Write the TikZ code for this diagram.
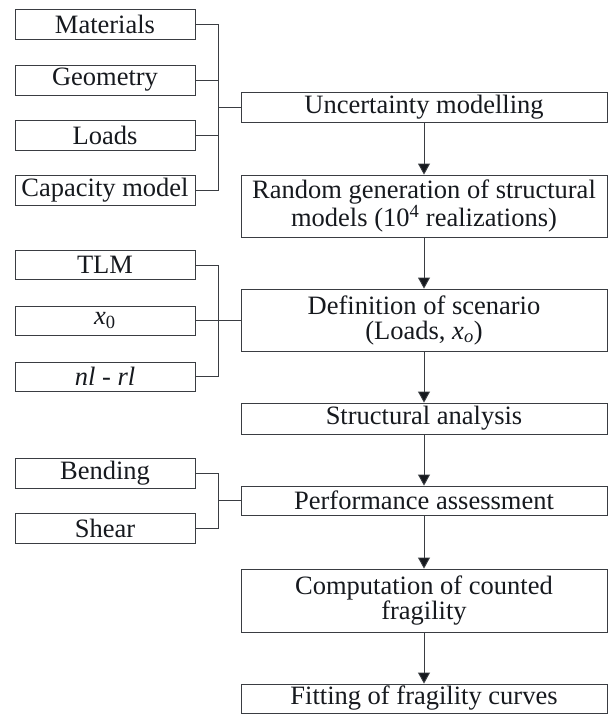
\documentclass[tikz,border=0pt]{standalone}
\usepackage{fontspec}
\setmainfont{Liberation Serif}
\usetikzlibrary{arrows.meta}
\definecolor{linec}{HTML}{3A3D42}
\definecolor{textc}{HTML}{16191E}
\begin{document}
\begin{tikzpicture}[x=1pt,y=-1pt,
  box/.style={draw=linec, line width=0.9pt, inner sep=0pt, align=center,
    font=\fontsize{26.5}{25}\selectfont, text=textc},
  lbox/.style={box, minimum width=180pt},
  rbox/.style={box, minimum width=366pt},
  conn/.style={draw=linec, line width=0.9pt},
  arr/.style={conn, -{Triangle[width=12pt,length=11pt,fill=textc]}}
]
\useasboundingbox (0,0) rectangle (611,715);

% left boxes
\node[lbox, minimum height=30pt] (mat) at (105,24) {Materials};
\node[lbox, minimum height=30pt] (geo) at (105,80) {Geometry};
\node[lbox, minimum height=30pt] (loa) at (105,135.5) {Loads};
\node[lbox, minimum height=30pt] (cap) at (105,190.5) {Capacity model};
\node[lbox, minimum height=29pt] (tlm) at (105,265) {TLM};
\node[lbox, minimum height=29pt] (xz) at (105,320.5) {\textit{x}\textsubscript{0}};
\node[lbox, minimum height=29pt] (nlrl) at (105,376.5) {\textit{nl - rl}};
\node[lbox, minimum height=30pt] (ben) at (105,473) {Bending};
\node[lbox, minimum height=30pt] (she) at (105,528) {Shear};

% right boxes
\node[rbox, minimum height=30pt] (unc) at (424,107) {Uncertainty modelling};
\node[rbox, minimum height=62pt] (rnd) at (424,206) {Random generation of structural\\models (10\textsuperscript{4} realizations)};
\node[rbox, minimum height=62pt] (def) at (424,320) {Definition of scenario\\(Loads, \textit{x\textsubscript{o}})};
\node[rbox, minimum height=31pt] (str) at (424,418.5) {Structural analysis};
\node[rbox, minimum height=29pt] (per) at (424,500.5) {Performance assessment};
\node[rbox, minimum height=63pt] (com) at (424,600.5) {Computation of counted\\fragility};
\node[rbox, minimum height=29pt] (fit) at (424,698.5) {Fitting of fragility curves};

% junctions
\coordinate (j1) at (218,107);
\coordinate (j2) at (218,320);
\coordinate (j3) at (218,500.5);

\draw[conn] (mat.east) -| (j1);
\draw[conn] (geo.east) -| (j1);
\draw[conn] (loa.east) -| (j1);
\draw[conn] (cap.east) -| (j1);
\draw[conn] (j1) -- (unc.west);

\draw[conn] (tlm.east) -| (j2);
\draw[conn] (xz.east) -| (j2);
\draw[conn] (nlrl.east) -| (j2);
\draw[conn] (j2) -- (def.west);

\draw[conn] (ben.east) -| (j3);
\draw[conn] (she.east) -| (j3);
\draw[conn] (j3) -- (per.west);

\draw[arr] (unc.south) -- (rnd.north);
\draw[arr] (rnd.south) -- (def.north);
\draw[arr] (def.south) -- (str.north);
\draw[arr] (str.south) -- (per.north);
\draw[arr] (per.south) -- (com.north);
\draw[arr] (com.south) -- (fit.north);
\end{tikzpicture}
\end{document}
